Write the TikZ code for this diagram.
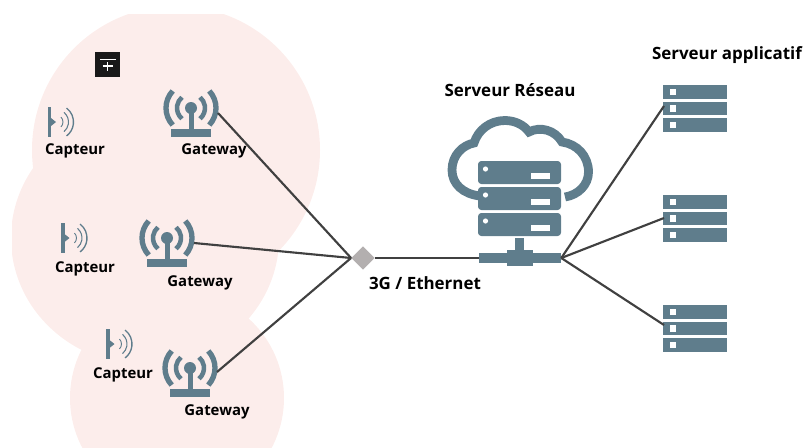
\documentclass[tikz,border=0pt]{standalone}
\usepackage{fontspec}
\setmainfont{Open Sans}
\usetikzlibrary{shapes.geometric}
\definecolor{icon}{HTML}{5F7D8C}
\definecolor{blob}{HTML}{FCEDEB}
\definecolor{wire}{HTML}{404040}
\definecolor{hubgrey}{HTML}{B3AFAF}
\tikzset{
  lab/.style={font=\bfseries\fontsize{11.2}{13}\selectfont,text=black,inner sep=0pt},
  biglab/.style={font=\bfseries\fontsize{12.7}{15}\selectfont,text=black,inner sep=0pt},
  wirestyle/.style={draw=wire,line width=1.6pt},
  pics/sensor/.style={code={
    \fill[icon] (-1.5,-15) rectangle (2,15);
    \fill[icon] (2,-4) -- (7,0) -- (2,4) -- cycle;
    \draw[icon,line width=.7pt] (7,0) ++(-45:7) arc (-45:45:7);
    \draw[icon,line width=.8pt] (7,0) ++(-50:12.5) arc (-50:50:12.5);
    \draw[icon,line width=1pt] (7,0) ++(-53:17.5) arc (-53:53:17.5);
  }},
  pics/gateway/.style={code={
    \fill[icon] (-20,21) rectangle (20,29);
    \fill[icon] (-2.5,0) rectangle (2.5,22);
    \fill[icon] (0,0) circle (6);
    \draw[icon,line width=3.4pt] (0,0) ++(130:14) arc (130:230:14);
    \draw[icon,line width=3.4pt] (0,0) ++(50:14) arc (50:-50:14);
    \draw[icon,line width=4pt] (0,0) ++(137:25) arc (137:223:25);
    \draw[icon,line width=4pt] (0,0) ++(43:25) arc (43:-43:25);
  }},
  pics/rack/.style={code={
    \foreach \y in {0,16.5,33}{
      \fill[icon] (0,\y) rectangle (64,\y+13.5);
      \fill[white] (6.5,\y+3.5) rectangle (13,\y+10);
    }
  }},
}
\begin{document}
\begin{tikzpicture}[x=0.75pt,y=-0.75pt]
\useasboundingbox (0,0) rectangle (803,447);
\begin{scope}
  \clip (12,14) rectangle (803,447);
  \fill[blob] (176,150) circle (144);
  \fill[blob] (145,238) ellipse (134 and 127);
  \fill[blob] (177,398) circle (107);
\end{scope}
% black glyph
\fill[black!90] (95,52) rectangle (120,77);
\draw[white,line width=.8pt] (100,59.5) -- (116,59.5) (102.5,66) -- (112.5,66) (107.5,62) -- (107.5,71);
% icons
\pic at (49,122) {sensor};
\pic at (62.5,238) {sensor};
\pic at (107.5,344) {sensor};
\pic at (191,108) {gateway};
\pic at (167,238) {gateway};
\pic at (190,368) {gateway};
\pic at (663,85) {rack};
\pic at (663,195) {rack};
\pic at (663,305) {rack};
% network server
\draw[icon,line width=6.6pt,line cap=butt] (480,196)
  .. controls (463,194) and (452,184) .. (452,170)
  .. controls (452,155) and (463,145) .. (474,143)
  .. controls (478,130) and (490,120.5) .. (505,120.5)
  .. controls (515,120.5) and (524,125) .. (529,132)
  .. controls (540,126) and (555,130) .. (562,142)
  .. controls (577,144) and (588.5,156) .. (588.5,172)
  .. controls (588.5,185) and (578,195) .. (565,197);
\foreach \y in {161,187,213}{
  \fill[icon,rounded corners=2.5pt] (478,\y) rectangle (561,\y+23);
  \fill[white] (485.5,\y+8) circle (2.6);
  \fill[white] (531,\y+12) rectangle (550,\y+18);
}
\fill[icon] (515,238) rectangle (524,252);
\fill[icon] (507,250) rectangle (533,266);
% connection points
\node[fill=hubgrey,diamond,minimum width=17.5pt,minimum height=17.5pt,inner sep=0pt] (hub) at (363,258) {};
\node[fill=icon,minimum width=61.5pt,minimum height=7pt,inner sep=0pt] (bus) at (520,258) {};
\coordinate (gw1) at (218,113);
\coordinate (gw2) at (194,243);
\coordinate (gw3) at (217,372);
\coordinate (app1) at (664,106);
\coordinate (app2) at (664,218);
\coordinate (app3) at (664,325);
\draw[wirestyle] (gw1) -- (hub.west);
\draw[wirestyle] (gw2) -- (hub.west);
\draw[wirestyle] (gw3) -- (hub.west);
\draw[wirestyle,line width=2pt] (hub.east) -- (bus.west);
\draw[wirestyle] (bus.east) -- (app1);
\draw[wirestyle] (bus.east) -- (app2);
\draw[wirestyle] (bus.east) -- (app3);
% labels
\node[lab] (l1) at (75,151) {Capteur};
\node[lab] (l2) at (214,150.5) {Gateway};
\node[lab] (l3) at (85,268.5) {Capteur};
\node[lab] (l4) at (200,282.5) {Gateway};
\node[lab] (l5) at (123,375) {Capteur};
\node[lab] (l6) at (217,412) {Gateway};
\node[biglab] (l7) at (425,283) {3G / Ethernet};
\node[biglab] (l8) at (510,90) {Serveur Réseau};
\node[biglab] (l9) at (727,55) {Serveur applicatif};
\end{tikzpicture}
\end{document}
